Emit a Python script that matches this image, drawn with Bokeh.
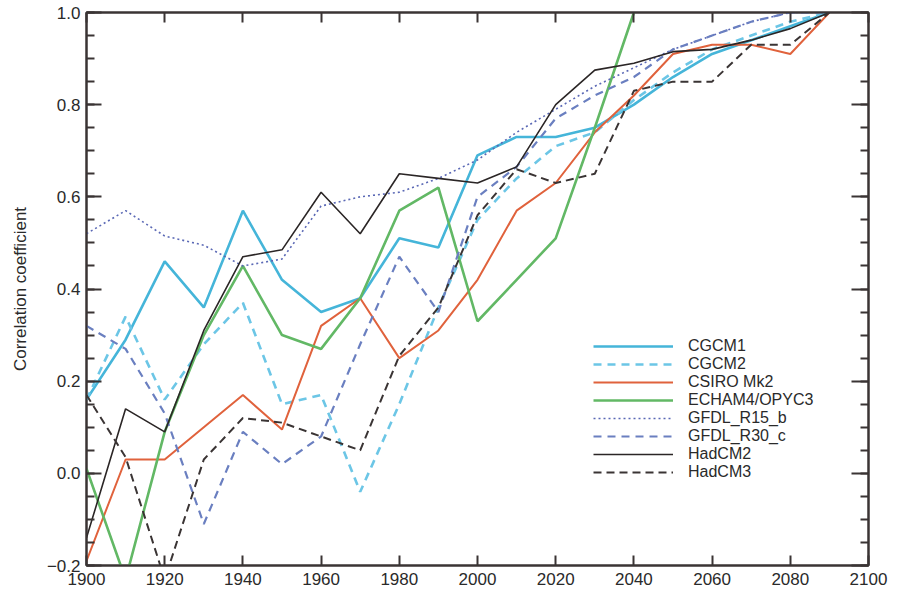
from bokeh.plotting import figure
from bokeh.models import Range1d, LinearAxis, Legend, LegendItem, FixedTicker
from bokeh.embed import file_html
from bokeh.resources import INLINE

years = [1900, 1910, 1920, 1930, 1940, 1950, 1960, 1970, 1980, 1990,
         2000, 2010, 2020, 2030, 2040, 2050, 2060, 2070, 2080, 2090]
years_echam = years[:15]

cgcm1 = [0.16, 0.29, 0.46, 0.36, 0.57, 0.42, 0.35, 0.38, 0.51, 0.49,
         0.69, 0.73, 0.73, 0.75, 0.80, 0.86, 0.91, 0.94, 0.97, 1.0]
cgcm2 = [0.16, 0.34, 0.16, 0.28, 0.37, 0.15, 0.17, -0.04, 0.15, 0.36,
         0.55, 0.64, 0.71, 0.74, 0.81, 0.87, 0.92, 0.95, 0.98, 1.0]
csiro = [-0.19, 0.03, 0.03, 0.10, 0.17, 0.095, 0.32, 0.38, 0.25, 0.31,
         0.42, 0.57, 0.63, 0.74, 0.82, 0.91, 0.93, 0.93, 0.91, 1.0]
echam = [0.01, -0.23, 0.09, 0.30, 0.45, 0.30, 0.27, 0.38, 0.57, 0.62,
         0.33, 0.42, 0.51, 0.75, 1.0]
gfdl_r15 = [0.52, 0.57, 0.515, 0.495, 0.45, 0.465, 0.58, 0.60, 0.61, 0.64,
            0.68, 0.74, 0.79, 0.84, 0.88, 0.92, 0.95, 0.98, 1.0, 1.0]
gfdl_r30 = [0.32, 0.27, 0.13, -0.11, 0.09, 0.02, 0.08, 0.28, 0.47, 0.35,
            0.60, 0.665, 0.77, 0.82, 0.86, 0.92, 0.95, 0.98, 1.0, 1.0]
hadcm2 = [-0.14, 0.14, 0.09, 0.31, 0.47, 0.485, 0.61, 0.52, 0.65, 0.64,
          0.63, 0.665, 0.80, 0.875, 0.89, 0.915, 0.92, 0.94, 0.965, 1.0]
hadcm3 = [0.17, 0.035, -0.23, 0.03, 0.12, 0.11, 0.08, 0.05, 0.255, 0.36,
          0.56, 0.66, 0.63, 0.65, 0.83, 0.85, 0.85, 0.93, 0.93, 1.0]

x_ticks = [1900, 1920, 1940, 1960, 1980, 2000, 2020, 2040, 2060, 2080, 2100]
y_ticks = [-0.2, 0.0, 0.2, 0.4, 0.6, 0.8, 1.0]
y_tick_labels = {-0.2: "\u22120.2", 0.0: "0.0", 0.2: "0.2", 0.4: "0.4",
                 0.6: "0.6", 0.8: "0.8", 1.0: "1.0"}

FONT = "Liberation Sans"
AX = "#3a3434"
TXT = "#2a2a2a"

p = figure(frame_width=782, frame_height=553, output_backend="svg",
           toolbar_location=None, x_range=Range1d(1900, 2100),
           y_range=Range1d(-0.2, 1.0), min_border_left=86, min_border_top=12,
           min_border_right=20, min_border_bottom=10)
p.xgrid.visible = False
p.ygrid.visible = False
p.outline_line_color = AX
p.outline_line_width = 2
p.background_fill_color = "white"
p.border_fill_color = "white"

minor_y = [round(-0.2 + 0.05 * i, 2) for i in range(25)]


def style_axis(ax, labels=True, major_in=10, minor_in=0, ticks=None, minor=None):
    ax.ticker = FixedTicker(ticks=ticks, minor_ticks=minor or [])
    ax.axis_line_color = AX
    ax.axis_line_width = 2
    ax.major_tick_line_color = AX
    ax.major_tick_line_width = 2
    ax.minor_tick_line_color = AX
    ax.minor_tick_line_width = 2
    ax.major_tick_in = major_in
    ax.major_tick_out = 0
    ax.minor_tick_in = minor_in
    ax.minor_tick_out = 0
    if labels:
        ax.major_label_text_font = FONT
        ax.major_label_text_font_size = "17px"
        ax.major_label_text_color = TXT
    else:
        ax.major_label_overrides = {t: "" for t in ticks}
        ax.major_label_text_font_size = "1px"
        ax.major_label_standoff = 0


xb = p.xaxis[0]
style_axis(xb, True, 10, 0, x_ticks)
xb.major_label_standoff = 7

yl = p.yaxis[0]
style_axis(yl, True, 15, 8, y_ticks, minor_y)
yl.major_label_standoff = 6
yl.major_label_overrides = y_tick_labels
yl.axis_label = "Correlation coefficient"
yl.axis_label_text_font = FONT
yl.axis_label_text_font_size = "17px"
yl.axis_label_text_font_style = "normal"
yl.axis_label_text_color = TXT
yl.axis_label_standoff = 14

xt = LinearAxis()
style_axis(xt, False, 10, 0, x_ticks)
p.add_layout(xt, "above")

yr = LinearAxis()
style_axis(yr, False, 17, 8, y_ticks, minor_y)
p.add_layout(yr, "right")

series = [
    ("CGCM1", years, cgcm1, "#45b5d9", 2.6, "solid"),
    ("CGCM2", years, cgcm2, "#6cc6e6", 2.6, "8 6"),
    ("CSIRO Mk2", years, csiro, "#e0623c", 2.0, "solid"),
    ("ECHAM4/OPYC3", years_echam, echam, "#62b865", 2.6, "solid"),
    ("GFDL_R15_b", years, gfdl_r15, "#5a68b5", 1.6, "2 3"),
    ("GFDL_R30_c", years, gfdl_r30, "#6a7fc0", 2.2, "8 6"),
    ("HadCM2", years, hadcm2, "#2b2626", 1.6, "solid"),
    ("HadCM3", years, hadcm3, "#3a3434", 2.0, "8 5"),
]

items = []
for name, xs, ys, color, w, dash in series:
    r = p.line(xs, ys, line_color=color, line_width=w, line_dash=dash)
    items.append(LegendItem(label=name, renderers=[r]))

legend = Legend(items=items, location=(507, 84), padding=0, margin=0,
                spacing=0, glyph_width=80, glyph_height=18, label_height=18,
                label_standoff=15, label_text_font=FONT,
                label_text_font_size="16px", label_text_color=TXT,
                border_line_color=None, background_fill_alpha=0)
p.add_layout(legend, "center")

open("out.html", "w").write(file_html(p, INLINE))
